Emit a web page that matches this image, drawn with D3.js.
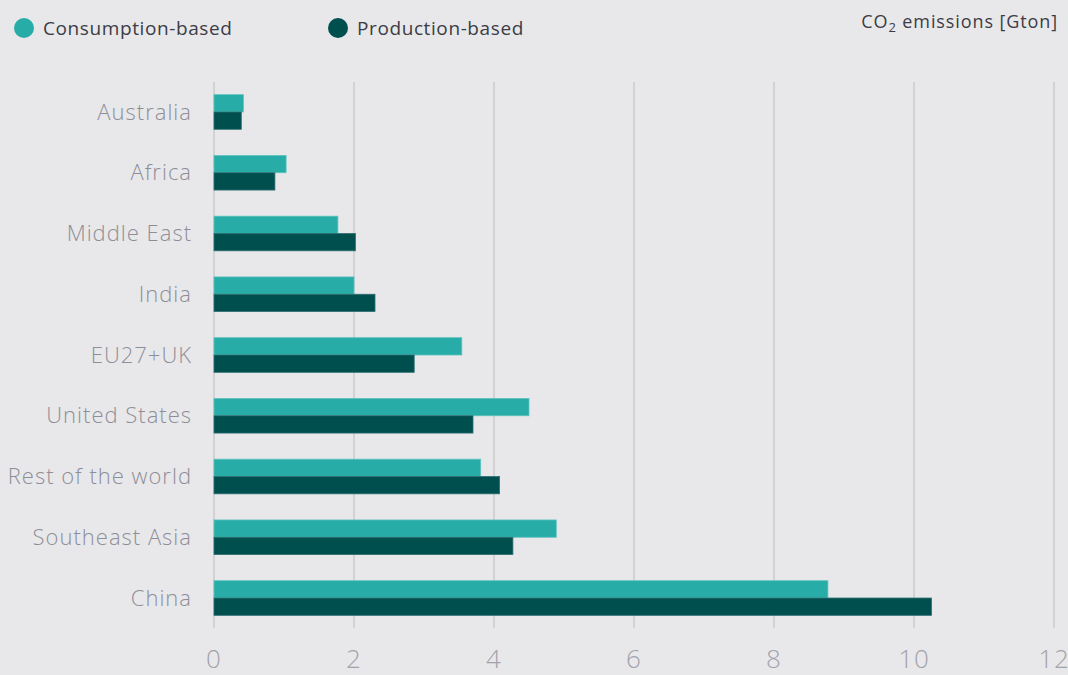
<!DOCTYPE html>
<html>
<head>
<meta charset="utf-8">
<script src="https://cdn.jsdelivr.net/npm/d3@7"></script>
<style>
  html, body { margin: 0; padding: 0; background: #e8e8ea; }
  svg { display: block; }
</style>
</head>
<body>
<svg id="chart" width="1068" height="675"></svg>
<script>
// Regions, top to bottom
const regions = ["Australia", "Africa", "Middle East", "India", "EU27+UK",
  "United States", "Rest of the world", "Southeast Asia", "China"];
// CO2 emissions in Gton
const consumption = [0.42, 1.03, 1.77, 2.00, 3.54, 4.50, 3.81, 4.89, 8.77];
const production  = [0.39, 0.87, 2.02, 2.30, 2.86, 3.70, 4.08, 4.27, 10.25];
const xTicks = [0, 2, 4, 6, 8, 10, 12];
const seriesNames = ["Consumption-based", "Production-based"];
const seriesColors = ["#27aca8", "#004f4f"];

const svg = d3.select("#chart");
const font = "'Open Sans', 'Noto Sans', sans-serif";

const x = d3.scaleLinear().domain([0, 12]).range([214, 1054]);
const y = d3.scaleBand().domain(regions).range([81.6, 628.4])
  .paddingInner(0.43).paddingOuter(0.215);
const ySub = d3.scaleBand().domain([0, 1]).range([0, y.bandwidth()]);

// Vertical gridlines
svg.append("g").selectAll("line").data(xTicks).join("line")
  .attr("x1", d => x(d)).attr("x2", d => x(d))
  .attr("y1", 82).attr("y2", 628)
  .attr("stroke", "#d2d2d5").attr("stroke-width", 2);

// Bars
const groups = svg.append("g").selectAll("g").data(regions).join("g")
  .attr("transform", r => `translate(0,${y(r)})`);
groups.selectAll("rect")
  .data((r, i) => [consumption[i], production[i]])
  .join("rect")
  .attr("x", x(0))
  .attr("y", (d, j) => ySub(j))
  .attr("width", d => x(d) - x(0))
  .attr("height", ySub.bandwidth())
  .attr("fill", (d, j) => seriesColors[j])
  .attr("stroke", (d, j) => j === 0 ? "#5fc3bf" : "#2f6f70")
  .attr("stroke-width", 0.8);

// Region labels
svg.append("g").selectAll("text").data(regions).join("text")
  .attr("x", 192)
  .attr("y", r => y(r) + y.bandwidth() / 2)
  .attr("dy", "0.35em")
  .attr("text-anchor", "end")
  .attr("font-family", font)
  .attr("font-weight", 300)
  .attr("font-size", 22)
  .attr("letter-spacing", 1)
  .attr("fill", "#8e8e98")
  .text(r => r);

// X axis labels
svg.append("g").selectAll("text").data(xTicks).join("text")
  .attr("x", d => x(d))
  .attr("y", 668)
  .attr("text-anchor", "middle")
  .attr("font-family", font)
  .attr("font-weight", 300)
  .attr("font-size", 26)
  .attr("letter-spacing", 1)
  .attr("fill", "#a2a2aa")
  .text(d => d);

// Legend
const legendX = [24, 338];
const legend = svg.append("g").selectAll("g").data(seriesNames).join("g")
  .attr("transform", (d, i) => `translate(${legendX[i]},28)`);
legend.append("circle").attr("r", 10).attr("fill", (d, i) => seriesColors[i]);
legend.append("text")
  .attr("x", 19).attr("dy", "0.35em")
  .attr("font-family", font)
  .attr("font-size", 19)
  .attr("letter-spacing", 0.6)
  .attr("fill", "#3c3c46")
  .text(d => d);

// Unit label
const unit = svg.append("text")
  .attr("x", 1058).attr("y", 28)
  .attr("text-anchor", "end")
  .attr("font-family", font)
  .attr("font-size", 18)
  .attr("letter-spacing", 0.9)
  .attr("fill", "#3c3c46");
unit.append("tspan").text("CO");
unit.append("tspan").attr("font-size", 13).attr("dy", 4).text("2");
unit.append("tspan").attr("dy", -4).text(" emissions [Gton]");
</script>
</body>
</html>
